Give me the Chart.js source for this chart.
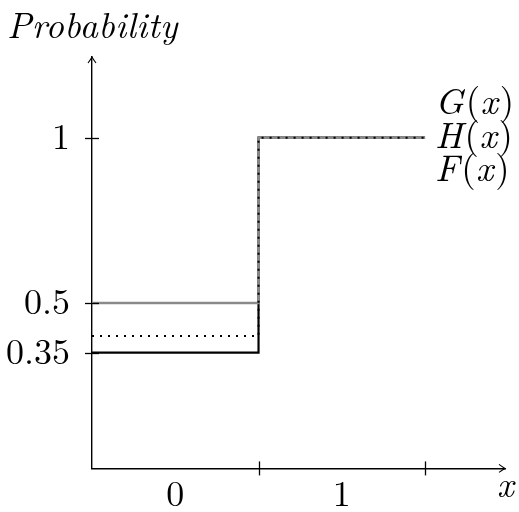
<!DOCTYPE html>
<html><head><meta charset="utf-8">
<script src="https://cdn.jsdelivr.net/npm/chart.js@4"></script>
<style>html,body{margin:0;padding:0;background:#fff}canvas{display:block}</style>
</head><body>
<canvas id="c" width="519" height="512"></canvas>
<script>
const xs = [0, 1, 2];
const seriesG = [0.5, 1, 1];
const seriesH = [0.4, 1, 1];
const seriesF = [0.35, 1, 1];
const seriesLabels = ['G', 'H', 'F'];
const yTicks = [0.35, 0.5, 1];
const yTickLabels = ['0.35', '0.5', '1'];
const xLabelValues = [0.5, 1.5];
const xTickLabels = ['0', '1'];
const xTickMarks = [1, 2];
const yAxisTitle = 'Probability';
const xAxisTitle = 'x';

const FONT = '"Latin Modern Roman", "Liberation Serif", serif';
const toPts = ys => xs.map((x, i) => ({x: x, y: ys[i]}));

const decor = {
  id: 'decor',
  afterDraw(chart) {
    const ctx = chart.ctx;
    const xS = chart.scales.x, yS = chart.scales.y;
    const ox = xS.left, oy = yS.bottom;
    ctx.save();
    ctx.strokeStyle = '#000';
    ctx.lineWidth = 1.3;
    yTicks.forEach(v => {
      const y = Math.round(yS.getPixelForValue(v)) + 0.5;
      ctx.beginPath(); ctx.moveTo(ox - 7, y); ctx.lineTo(ox + 7, y); ctx.stroke();
    });
    xTickMarks.forEach(v => {
      const x = Math.round(xS.getPixelForValue(v)) + 0.5;
      ctx.beginPath(); ctx.moveTo(x, oy - 7); ctx.lineTo(x, oy + 7); ctx.stroke();
    });
    const top = yS.top, right = xS.right;
    ctx.lineWidth = 1.1;
    ctx.beginPath();
    ctx.moveTo(ox - 4, top + 6); ctx.quadraticCurveTo(ox - 1, top + 2, ox, top);
    ctx.quadraticCurveTo(ox + 1, top + 2, ox + 4, top + 6);
    ctx.stroke();
    ctx.beginPath();
    ctx.moveTo(right - 6, oy - 4); ctx.quadraticCurveTo(right - 2, oy - 1, right, oy);
    ctx.quadraticCurveTo(right - 2, oy + 1, right - 6, oy + 4);
    ctx.stroke();
    ctx.fillStyle = '#000';
    ctx.textBaseline = 'alphabetic';
    ctx.textAlign = 'left';
    ctx.font = 'italic 36px ' + FONT;
    try { ctx.letterSpacing = '0.4px'; } catch (e) {}
    ctx.fillText(yAxisTitle, 7, 38);
    try { ctx.letterSpacing = '0px'; } catch (e) {}
    ctx.fillText(xAxisTitle, right - 8, 497);
    const xEnd = xS.getPixelForValue(xs[xs.length - 1]) + 10;
    const yOne = yS.getPixelForValue(1);
    seriesLabels.forEach((name, k) => {
      const base = yOne + (k - 1) * 33.5 + 10;
      let x = xEnd;
      const parts = [[name, true], ['(', false], ['x', true], [')', false]];
      parts.forEach(([t, it]) => {
        ctx.font = (it ? 'italic ' : '') + '37px ' + FONT;
        ctx.fillText(t, x, base);
        x += ctx.measureText(t).width + (it ? 2 : 0.5);
      });
    });
    ctx.restore();
  }
};

new Chart(document.getElementById('c'), {
  type: 'line',
  data: {
    datasets: [
      {label: 'H(x)', data: toPts(seriesH), borderColor: '#000', borderWidth: 2, borderDash: [2, 6], stepped: 'before', pointRadius: 0, fill: false, order: 0},
      {label: 'G(x)', data: toPts(seriesG), borderColor: '#8a8a8a', borderWidth: 2.5, stepped: 'before', pointRadius: 0, fill: false, order: 1},
      {label: 'F(x)', data: toPts(seriesF), borderColor: '#000', borderWidth: 2.2, stepped: 'before', pointRadius: 0, fill: false, order: 2}
    ]
  },
  options: {
    responsive: false,
    animation: false,
    layout: {padding: {left: 0, right: 14, top: 57, bottom: 0}},
    plugins: {legend: {display: false}, tooltip: {enabled: false}, title: {display: false}},
    scales: {
      x: {
        type: 'linear', min: 0, max: 2.48,
        grid: {display: false, drawTicks: false},
        border: {display: true, color: '#000', width: 1.4},
        afterBuildTicks: s => { s.ticks = xLabelValues.map(v => ({value: v})); },
        afterFit: s => { s.height = 42; },
        ticks: {
          padding: 5, color: '#000', maxRotation: 0, autoSkip: false,
          font: {family: FONT, size: 36},
          callback: (v) => { const i = xLabelValues.indexOf(v); return i >= 0 ? xTickLabels[i] : ''; }
        }
      },
      y: {
        type: 'linear', min: 0, max: 1.244,
        grid: {display: false, drawTicks: false},
        border: {display: true, color: '#000', width: 1.4},
        afterBuildTicks: s => { s.ticks = yTicks.map(v => ({value: v})); },
        afterFit: s => { s.width = 92; },
        ticks: {
          padding: 22, color: '#000', autoSkip: false,
          font: {family: FONT, size: 36},
          callback: (v) => { const i = yTicks.indexOf(v); return i >= 0 ? yTickLabels[i] : ''; }
        }
      }
    }
  },
  plugins: [decor]
});
</script>
</body></html>
